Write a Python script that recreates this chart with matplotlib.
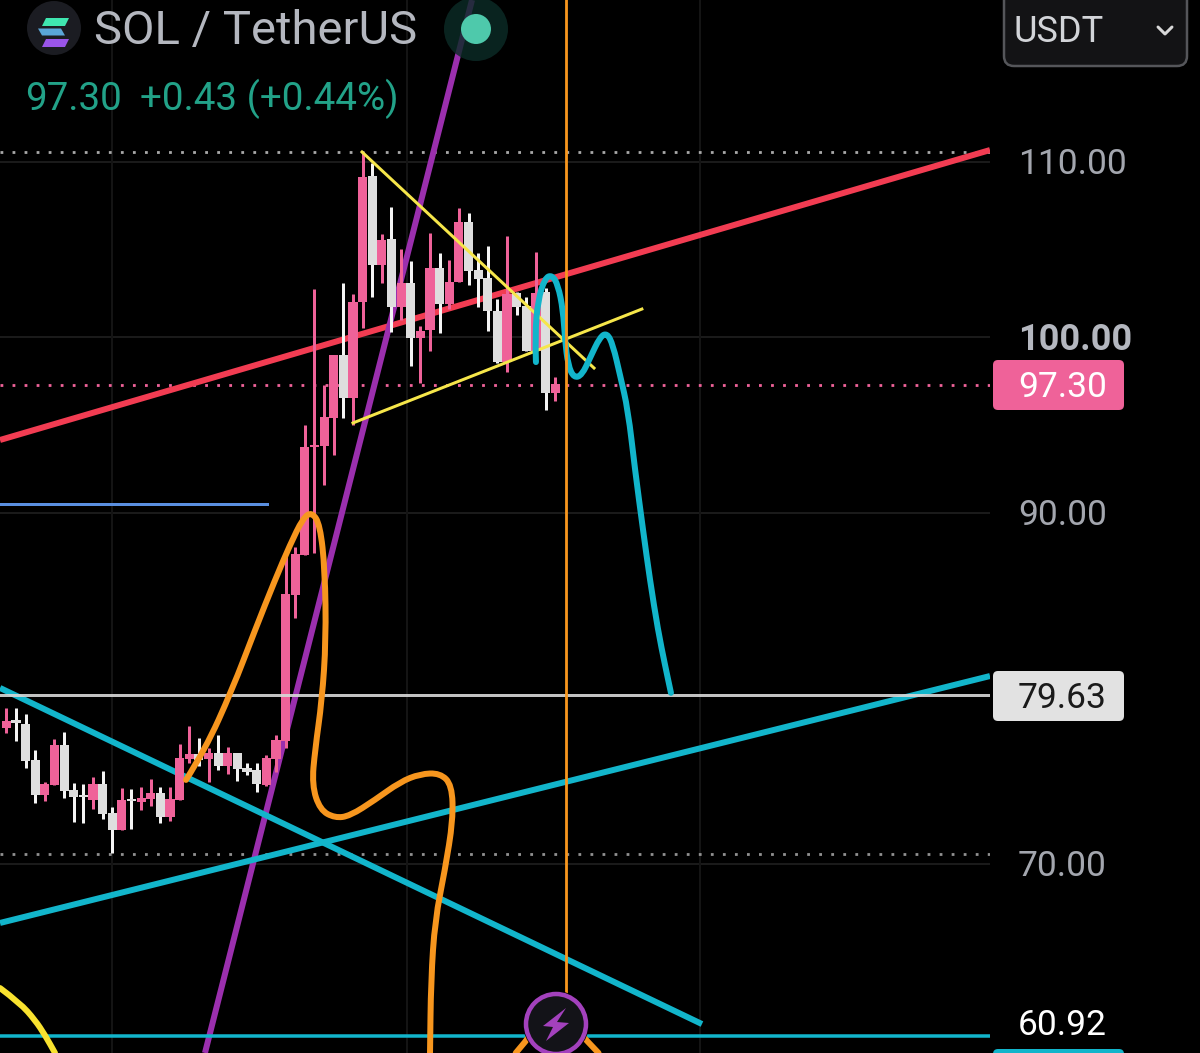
import numpy as np
import matplotlib
matplotlib.use("Agg")
import matplotlib.pyplot as plt
from matplotlib.path import Path
from matplotlib.patches import PathPatch, Circle, FancyBboxPatch, Polygon, Rectangle

plt.rcParams['font.family'] = ['Roboto', 'DejaVu Sans']

# ---- candles (price) ----
highs = [78.89,78.89,78.55,76.50,74.67,77.12,77.52,74.61,74.56,74.96,75.30,73.25,74.33,74.27,74.39,74.84,74.39,74.39,76.84,77.86,
         77.18,76.61,77.35,76.67,76.33,75.75,75.75,76.21,77.35,87.72,88.06,95.01,102.76,97.29,99.00,103.11,102.48,110.57,109.94,105.90,
         107.44,105.04,104.36,100.66,105.95,104.81,104.42,107.38,107.09,104.81,105.21,102.19,105.78,102.59,102.31,104.87,102.82,97.75]
lows = [77.46,77.01,75.47,73.48,73.59,74.50,73.76,72.39,72.33,73.13,72.56,70.63,71.94,71.99,73.08,73.30,72.33,72.45,73.65,75.75,
        75.58,74.67,75.36,75.13,74.73,75.07,74.10,74.44,75.24,76.61,84.02,87.61,87.72,91.60,93.30,95.41,95.01,100.54,102.31,103.11,
        100.31,101.00,98.38,97.41,99.23,100.26,101.62,103.16,102.99,101.74,100.37,98.55,98.03,101.28,99.23,99.12,95.87,96.38]
body_tops = [78.15,78.20,77.98,75.93,74.56,76.78,76.78,74.22,73.93,74.56,74.56,72.91,73.65,73.70,73.76,74.05,74.05,73.70,76.04,76.27,
             76.27,76.33,76.33,76.33,76.33,75.47,75.36,76.04,77.07,85.38,87.66,93.76,93.87,95.47,99.00,99.00,102.02,109.15,109.20,105.56,
             105.61,103.11,103.11,100.37,103.96,103.96,103.16,106.58,106.58,103.85,103.39,101.51,102.48,102.54,101.79,102.54,102.59,97.35]
body_bottoms = [77.75,78.03,75.87,73.93,73.93,74.50,74.16,73.82,73.82,73.65,72.85,71.94,71.94,73.59,73.53,73.70,72.68,72.68,73.65,75.98,
                75.93,75.98,75.58,75.58,75.41,75.24,74.56,74.50,75.98,77.01,85.33,87.61,93.76,93.82,95.41,96.55,96.55,102.02,104.13,104.13,
                101.74,101.74,99.97,99.97,100.43,101.91,101.91,103.16,103.79,103.33,101.51,98.60,98.60,101.74,99.23,99.23,96.84,96.84]
is_up = [1,0,0,0,1,1,0,0,0,1,0,0,1,0,1,1,0,1,1,1,
         0,1,0,1,0,0,0,1,1,1,1,1,1,1,1,0,1,1,0,1,
         0,1,0,1,1,0,1,1,0,0,0,0,1,0,0,1,0,1]

# ---- axis ----
price_ticks = [110, 100, 90, 70]
last_price = 97.30
level_price = 79.63
bottom_price = 60.92
bottom_line = 60.20
top_dotted = 110.57
low_dotted = 70.56
blue_level = 90.52
marker_bar = 58.12
grid_bars = [10.98, 41.6, 72.0]

# ---- drawn trend lines: (bar, price) ----
red_x, red_y = [-0.65, 102.15], [94.16, 110.68]
purple_x, purple_y = [20.63, 48.36], [59.23, 119.23]
teal_down_x, teal_down_y = [-0.65, 72.24], [80.03, 60.88]
teal_up_x, teal_up_y = [-0.65, 102.15], [66.64, 80.71]
yellow_a_x, yellow_a_y = [36.94, 61.03], [110.57, 98.26]
yellow_b_x, yellow_b_y = [36.0, 66.0], [95.13, 101.62]
blue_x = [-0.65, 27.07]

# ---- freehand curves: (bar, price) ----
orange_x = [18.66,20.63,23.44,25.83,27.90,29.46,30.81,31.74,32.58,33.09,33.20,32.78,32.06,31.74,32.58,34.13,35.69,38.28,40.88,42.96,45.04,46.28,46.39,45.55,44.52,44.10,44.0]
orange_y = [74.79,76.50,79.91,83.33,86.18,88.18,89.71,90.06,89.32,86.75,82.76,79.34,76.50,74.50,73.08,72.62,72.74,73.65,74.67,75.13,75.18,74.50,72.51,69.66,66.81,63.39,59.23]
cyan_x = [55.0,54.9,55.21,55.94,56.67,57.29,57.81,58.02,58.33,58.95,59.78,60.61,61.65,62.38,63.0,63.73,64.56,65.29,66.12,66.84,67.67,68.4,69.02]
cyan_y = [98.60,100.14,102.14,103.39,103.56,102.99,101.57,99.86,98.43,97.69,97.86,98.83,100.03,100.26,99.57,97.86,95.87,92.45,89.03,86.18,83.33,81.34,79.75]
arc_x = [-0.65,1.42,2.98,4.02,5.06]
arc_y = [62.93,62.08,61.11,60.25,59.23]
hump_x = [52.9,54.9,57.1,59.3,61.5]
hump_y = [59.23,60.5,62.5,60.5,59.23]

PINK = '#ef6299'
WHITE = '#dedede'
WICK_WHITE = '#f4f4f4'
TEAL = '#12b5cb'
ORANGE = '#f7961e'
YELLOW = '#f6e64a'
PURPLE = '#9b2fae'
RED = '#f23c52'
GRID = '#1a1a1a'
VGRID = '#141414'
AXIS = '#a3a6ae'

fig = plt.figure(figsize=(12, 10.53), dpi=100, facecolor='black')
ax = fig.add_axes([0, 0, 990/1200, 1], facecolor='black')
ax.set_xlim(-0.654, 102.15)
ax.set_ylim(59.23, 119.23)
ax.axis('off')
px = 72/100  # points per pixel


def smooth(ax, xs, ys, color, width, z):
    """Quadratic B-spline through the control points, drawn by a Path."""
    pts = list(zip(xs, ys))
    verts = [pts[0]]
    codes = [Path.MOVETO]
    for a, b in zip(pts[1:-1], pts[2:]):
        verts += [a, ((a[0]+b[0])/2, (a[1]+b[1])/2)]
        codes += [Path.CURVE3, Path.CURVE3]
    verts += [pts[-1]]
    codes += [Path.LINETO]
    ax.add_patch(PathPatch(Path(verts, codes), fill=False, edgecolor=color,
                           lw=width*px, capstyle='round', joinstyle='round', zorder=z))


# grid
for p in price_ticks:
    ax.axhline(p, color=GRID, lw=2*px, zorder=1)
for b in grid_bars:
    ax.axvline(b, color=VGRID, lw=2*px, zorder=1)

# dotted levels
ax.axhline(top_dotted, color='#a8a8a8', lw=2.8*px, ls=(0, (1, 3.3)), zorder=2)
ax.axhline(low_dotted, color='#909090', lw=2.8*px, ls=(0, (1, 3.3)), zorder=2)
ax.axhline(last_price, color=PINK, lw=2.8*px, ls=(0, (1, 3.3)), zorder=2)

# trend lines under candles
ax.plot(red_x, red_y, color=RED, lw=6*px, zorder=3, solid_capstyle='butt')
ax.plot(purple_x, purple_y, color=PURPLE, lw=6*px, zorder=3, solid_capstyle='butt')
ax.plot(teal_down_x, teal_down_y, color=TEAL, lw=6*px, zorder=3, solid_capstyle='butt')
ax.plot(teal_up_x, teal_up_y, color=TEAL, lw=6*px, zorder=3, solid_capstyle='butt')
ax.plot(blue_x, [blue_level]*2, color='#5a8fe0', lw=3*px, zorder=3)
ax.axhline(bottom_line, color=TEAL, lw=3.5*px, zorder=3)
smooth(ax, arc_x, arc_y, '#f9e22f', 6, 3)
smooth(ax, hump_x, hump_y, ORANGE, 6, 3)

# candles
colors = [PINK if u else WHITE for u in is_up]
wick_colors = [PINK if u else WICK_WHITE for u in is_up]
bars = np.arange(len(highs))
ax.vlines(bars, lows, highs, colors=wick_colors, lw=3*px, zorder=4)
ax.bar(bars, np.array(body_tops)-np.array(body_bottoms), bottom=body_bottoms,
       width=0.95, color=colors, linewidth=0, zorder=5)

# lines over candles
ax.axhline(level_price, color='#d8d8d8', lw=3*px, alpha=0.9, zorder=6)
ax.plot(yellow_a_x, yellow_a_y, color=YELLOW, lw=3*px, zorder=6)
ax.plot(yellow_b_x, yellow_b_y, color=YELLOW, lw=3*px, zorder=6)
smooth(ax, orange_x, orange_y, ORANGE, 6, 7)
smooth(ax, cyan_x, cyan_y, TEAL, 6, 7)
ax.axvline(marker_bar, color=ORANGE, lw=2.8*px, zorder=7)

# overlay in screen pixels for the app chrome
ov = fig.add_axes([0, 0, 1, 1], facecolor='none')
ov.set_xlim(0, 1200)
ov.set_ylim(1053, 0)
ov.axis('off')

# header
ov.add_patch(Circle((54, 28), 27, color='#1b1c22', lw=0))
for top, c in [(18, '#3fe6b0'), (28.5, '#5aa6d8'), (39, '#9a55ea')]:
    ov.add_patch(Polygon([[42, top+8], [65, top+8], [69, top], [46, top]] if top != 28.5
                         else [[38, top], [61, top], [65, top+7], [42, top+7]], color=c, lw=0))
ov.text(94, 31, 'SOL / TetherUS', color='#b4b7bf', fontsize=34, va='center', ha='left')
ov.text(25, 99, '97.30', color='#22a288', fontsize=27.8, va='center', ha='left')
ov.text(140, 99, '+0.43 (+0.44%)', color='#22a288', fontsize=27.8, va='center', ha='left')
ov.add_patch(Circle((476, 29), 32, color='#0c2b27', alpha=0.82, lw=0))
ov.add_patch(Circle((476, 29), 15, color='#4ec9ab', lw=0))

# currency box
ov.add_patch(FancyBboxPatch((1004, -20), 183, 86, boxstyle='round,pad=0,rounding_size=10',
                            facecolor='#131315', edgecolor='#55565a', lw=2.5*px))
ov.text(1014, 32, 'USDT', color='#d2d4d8', fontsize=26, va='center', ha='left')
ov.plot([1158, 1165, 1172], [27, 34, 27], color='#d8d8d8', lw=3*px, solid_capstyle='round')

# price labels
for lab, y, w in [('110.00', 164.5, 'normal'), ('90.00', 515.5, 'normal'), ('70.00', 866.5, 'normal')]:
    ov.text(1018, y, lab, color=AXIS, fontsize=25.5, va='center', ha='left', fontweight=w)
ov.text(1018, 340.5, '100.00', color='#b4b7bf', fontsize=26, va='center', ha='left', fontweight='bold')
ov.add_patch(FancyBboxPatch((993, 360), 131, 50, boxstyle='round,pad=0,rounding_size=5', facecolor=PINK, lw=0))
ov.text(1018, 387.5, f'{last_price:.2f}', color='white', fontsize=25.5, va='center', ha='left')
ov.add_patch(FancyBboxPatch((993, 671), 131, 50, boxstyle='round,pad=0,rounding_size=5', facecolor='#e2e2e2', lw=0))
ov.text(1018, 698.5, f'{level_price:.2f}', color='#1a1a1a', fontsize=25.5, va='center', ha='left')
ov.text(1018, 1025.5, f'{bottom_price:.2f}', color='white', fontsize=25.5, va='center', ha='left')
ov.add_patch(FancyBboxPatch((993, 1049), 131, 20, boxstyle='round,pad=0,rounding_size=5', facecolor=TEAL, lw=0))

# lightning badge
ov.add_patch(Circle((556, 1024), 33, color='black', lw=0))
ov.add_patch(Circle((556, 1024), 30, facecolor='#131318', edgecolor='#a341bd', lw=4.5*px))
ov.add_patch(Polygon([[566, 1008], [543, 1026], [553, 1027], [546, 1041], [569, 1023], [557, 1022]],
                     color='#a341bd', lw=0))

fig.savefig('out.png', dpi=100, facecolor='black')
